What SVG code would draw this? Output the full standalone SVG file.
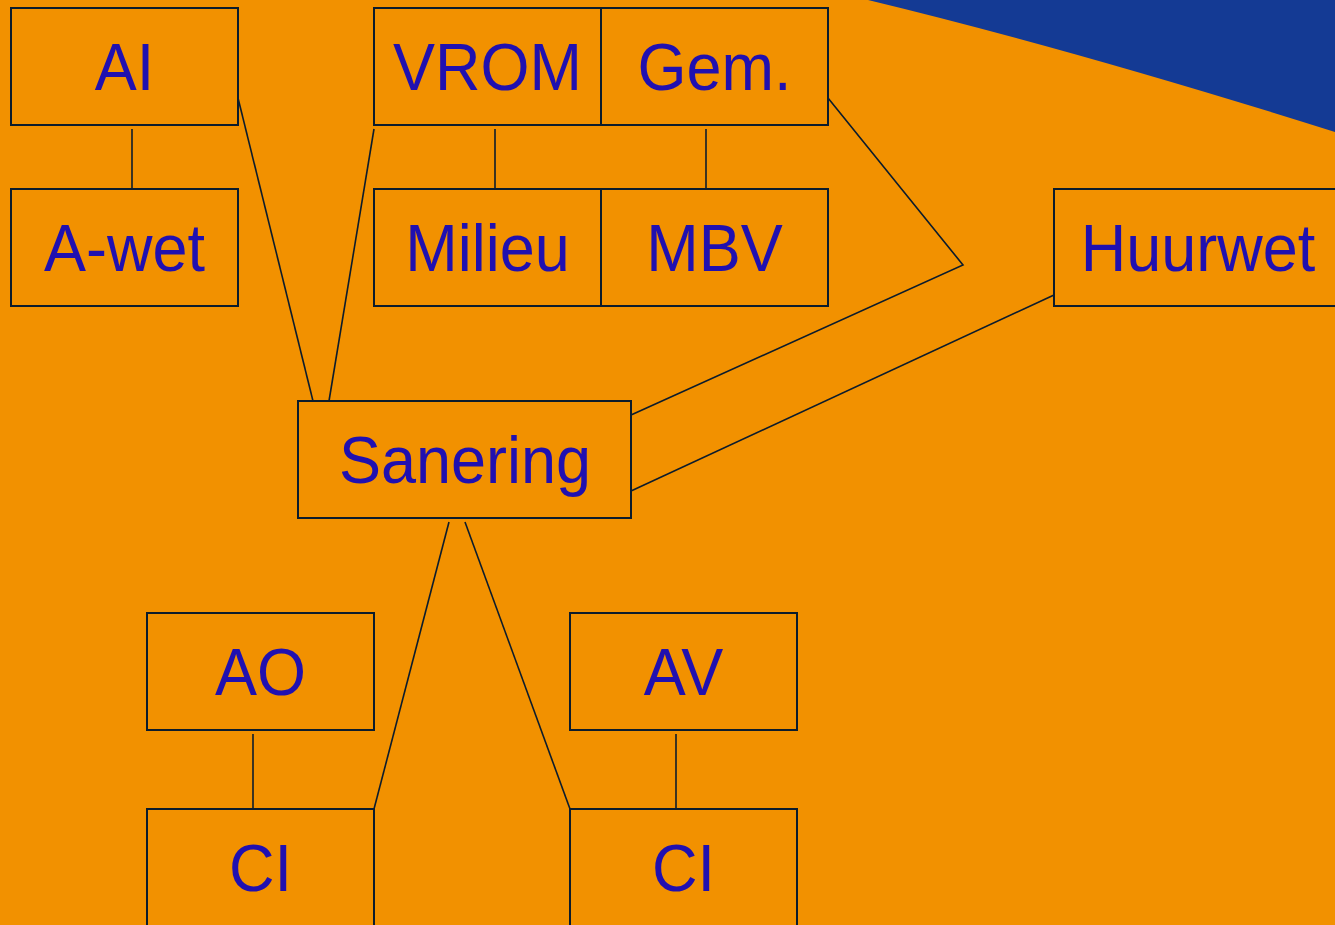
<svg xmlns="http://www.w3.org/2000/svg" width="1335" height="925" viewBox="0 0 1335 925">
<style>
.box{fill:none;stroke:#0c1c2c;stroke-width:2}
.lbl{font-family:"Liberation Sans",Arial,sans-serif;font-size:63px;fill:#2010b0;text-anchor:middle}
.conn line,.conn polyline{stroke:#0c1c2c;stroke-width:1.6;fill:none}
</style>
<rect width="1335" height="925" fill="#f29100"/>
<path d="M868,0 Q1075,50 1335,132 L1335,0 Z" fill="#143a94"/>
<g class="conn">
<line x1="132" y1="129" x2="132" y2="189"/>
<line x1="238" y1="98" x2="313" y2="401"/>
<line x1="374" y1="129" x2="329" y2="401"/>
<line x1="495" y1="129" x2="495" y2="189"/>
<line x1="706" y1="129" x2="706" y2="189"/>
<polyline points="828,98 963,265 631,415"/>
<line x1="1054" y1="295" x2="631" y2="491"/>
<line x1="449" y1="522" x2="374" y2="809"/>
<line x1="465" y1="522" x2="570" y2="809"/>
<line x1="253" y1="734" x2="253" y2="809"/>
<line x1="676" y1="734" x2="676" y2="809"/>
</g>
<g id="ai"><rect class="box" x="11" y="8" width="227" height="117"/><text class="lbl" transform="translate(124.5,90) scale(1,1.06)">AI</text></g>
<g id="awet"><rect class="box" x="11" y="189" width="227" height="117"/><text class="lbl" transform="translate(124.5,271) scale(1,1.06)">A-wet</text></g>
<g id="vrom"><rect class="box" x="374" y="8" width="227" height="117"/><text class="lbl" transform="translate(487.5,90) scale(1,1.06)">VROM</text></g>
<g id="gem"><rect class="box" x="601" y="8" width="227" height="117"/><text class="lbl" transform="translate(714.5,90) scale(1,1.06)">Gem.</text></g>
<g id="milieu"><rect class="box" x="374" y="189" width="227" height="117"/><text class="lbl" transform="translate(487.5,271) scale(1,1.06)">Milieu</text></g>
<g id="mbv"><rect class="box" x="601" y="189" width="227" height="117"/><text class="lbl" transform="translate(714.5,271) scale(1,1.06)">MBV</text></g>
<g id="huurwet"><rect class="box" x="1054" y="189" width="290" height="117"/><text class="lbl" transform="translate(1198,271) scale(1,1.06)">Huurwet</text></g>
<g id="sanering"><rect class="box" x="298" y="401" width="333" height="117"/><text class="lbl" transform="translate(465,483) scale(1,1.06)">Sanering</text></g>
<g id="ao"><rect class="box" x="147" y="613" width="227" height="117"/><text class="lbl" transform="translate(260.5,695) scale(1,1.06)">AO</text></g>
<g id="ci1"><rect class="box" x="147" y="809" width="227" height="130"/><text class="lbl" transform="translate(260.5,891) scale(1,1.06)">CI</text></g>
<g id="av"><rect class="box" x="570" y="613" width="227" height="117"/><text class="lbl" transform="translate(683.5,695) scale(1,1.06)">AV</text></g>
<g id="ci2"><rect class="box" x="570" y="809" width="227" height="130"/><text class="lbl" transform="translate(683.5,891) scale(1,1.06)">CI</text></g>
</svg>
